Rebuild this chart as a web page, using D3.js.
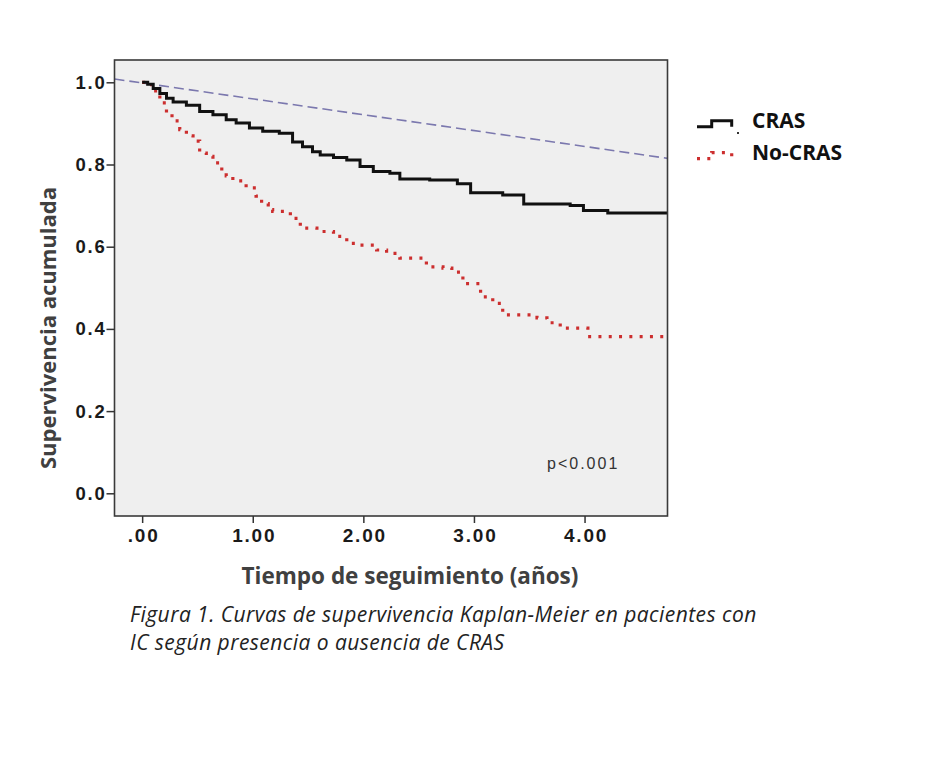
<!DOCTYPE html>
<html>
<head>
<meta charset="utf-8">
<script src="https://cdn.jsdelivr.net/npm/d3@7"></script>
<style>
  body { margin: 0; background: #fff; }
</style>
</head>
<body>
<div id="chart"></div>
<script>
// tiempos (años) y supervivencia acumulada
var crasTime = [0, 0.05, 0.10, 0.16, 0.22, 0.28, 0.40, 0.52, 0.64, 0.76, 0.85, 0.97, 1.09, 1.24, 1.36, 1.45, 1.54, 1.61, 1.73, 1.85, 1.97, 2.09, 2.24, 2.33, 2.60, 2.85, 2.97, 3.26, 3.45, 3.87, 3.99, 4.21, 4.75]
var crasSurv = [1.0, 0.995, 0.985, 0.973, 0.961, 0.952, 0.944, 0.929, 0.921, 0.909, 0.901, 0.889, 0.881, 0.876, 0.855, 0.843, 0.831, 0.823, 0.817, 0.811, 0.795, 0.783, 0.779, 0.765, 0.762, 0.753, 0.731, 0.726, 0.704, 0.700, 0.688, 0.682, 0.682]

var noCrasTime = [0, 0.04, 0.10, 0.16, 0.22, 0.27, 0.34, 0.40, 0.46, 0.52, 0.58, 0.64, 0.72, 0.76, 0.82, 0.94, 1.03, 1.08, 1.14, 1.18, 1.34, 1.43, 1.58, 1.73, 1.85, 1.97, 2.12, 2.21, 2.33, 2.57, 2.72, 2.80, 2.90, 3.06, 3.17, 3.26, 3.57, 3.66, 3.78, 4.03, 4.75]
var noCrasSurv = [1.0, 0.994, 0.979, 0.950, 0.925, 0.906, 0.885, 0.870, 0.857, 0.828, 0.820, 0.804, 0.784, 0.772, 0.760, 0.743, 0.723, 0.705, 0.690, 0.686, 0.669, 0.645, 0.637, 0.625, 0.608, 0.604, 0.592, 0.584, 0.572, 0.551, 0.548, 0.538, 0.510, 0.478, 0.462, 0.434, 0.427, 0.415, 0.402, 0.381, 0.381]

// línea de referencia (discontinua)
var refTime = [-0.25, 4.75]
var refSurv = [1.008, 0.815]

var xTicks = [0, 1, 2, 3, 4]
var xTickLabels = ['.00', '1.00', '2.00', '3.00', '4.00']
var yTicks = [0, 0.2, 0.4, 0.6, 0.8, 1.0]

var seriesNames = ['CRAS', 'No-CRAS']

var width = 935
var height = 757
var frame = { left: 114.5, right: 667.5, top: 60, bottom: 516 }

var x = d3.scaleLinear().domain([-0.25, 4.75]).range([frame.left, frame.right])
var y = d3.scaleLinear().domain([0, 1]).range([493.3, 82.3])

var svg = d3.select('#chart').append('svg')
  .attr('width', width)
  .attr('height', height)
  .style('font-family', 'Arial, "Liberation Sans", sans-serif')

svg.append('defs').append('clipPath')
  .attr('id', 'plot-clip')
  .append('rect')
  .attr('x', frame.left)
  .attr('y', frame.top)
  .attr('width', frame.right - frame.left)
  .attr('height', frame.bottom - frame.top)

// fondo del gráfico
svg.append('rect')
  .attr('x', frame.left)
  .attr('y', frame.top)
  .attr('width', frame.right - frame.left)
  .attr('height', frame.bottom - frame.top)
  .attr('fill', '#efefef')

function toPoints (ts, ss) {
  return ts.map(function (t, i) { return [t, ss[i]] })
}

var stepLine = d3.line()
  .x(function (d) { return x(d[0]) })
  .y(function (d) { return y(d[1]) })
  .curve(d3.curveStepAfter)

var straightLine = d3.line()
  .x(function (d) { return x(d[0]) })
  .y(function (d) { return y(d[1]) })

var plot = svg.append('g').attr('clip-path', 'url(#plot-clip)')

plot.append('path')
  .attr('d', straightLine(toPoints(refTime, refSurv)))
  .attr('fill', 'none')
  .attr('stroke', '#7b78ae')
  .attr('stroke-width', 1.6)
  .attr('stroke-dasharray', '10,5')

plot.append('path')
  .attr('d', stepLine(toPoints(noCrasTime, noCrasSurv)))
  .attr('fill', 'none')
  .attr('stroke', '#cc2e2e')
  .attr('stroke-width', 3.2)
  .attr('stroke-dasharray', '3,7.3')

plot.append('path')
  .attr('d', stepLine(toPoints(crasTime, crasSurv)))
  .attr('fill', 'none')
  .attr('stroke', '#111')
  .attr('stroke-width', 3)

// marco
svg.append('rect')
  .attr('x', frame.left)
  .attr('y', frame.top)
  .attr('width', frame.right - frame.left)
  .attr('height', frame.bottom - frame.top)
  .attr('fill', 'none')
  .attr('stroke', '#3a3a3a')
  .attr('stroke-width', 1.6)

// eje y
var yAxis = svg.append('g').attr('transform', 'translate(' + frame.left + ',0)')
  .call(d3.axisLeft(y).tickValues(yTicks).tickFormat(d3.format('.1f')).tickSize(8).tickPadding(0))
yAxis.select('.domain').remove()
yAxis.selectAll('line').attr('stroke', '#333').attr('stroke-width', 1.5)
yAxis.selectAll('text')
  .attr('fill', '#1a1a1a')
  .style('font-size', '18.5px')
  .style('font-weight', 'bold')
  .style('letter-spacing', '1.8px')

// eje x
var xAxis = svg.append('g').attr('transform', 'translate(0,' + frame.bottom + ')')
  .call(d3.axisBottom(x).tickValues(xTicks).tickFormat(function (d, i) { return xTickLabels[i] }).tickSize(7).tickPadding(6))
xAxis.select('.domain').remove()
xAxis.selectAll('line').attr('stroke', '#333').attr('stroke-width', 1.5)
xAxis.selectAll('text')
  .attr('fill', '#1a1a1a')
  .attr('dx', '1')
  .style('font-size', '19px')
  .style('font-weight', 'bold')
  .style('letter-spacing', '1.8px')

// títulos de ejes
svg.append('text')
  .attr('transform', 'translate(56,328)rotate(-90)')
  .attr('text-anchor', 'middle')
  .attr('fill', '#404040')
  .style('font-family', '"Open Sans", sans-serif')
  .style('font-size', '22px')
  .style('font-weight', 'bold')
  .text('Supervivencia acumulada')

svg.append('text')
  .attr('x', 410)
  .attr('y', 584)
  .attr('text-anchor', 'middle')
  .attr('fill', '#404040')
  .style('font-family', '"Open Sans", sans-serif')
  .style('font-size', '22.5px')
  .style('font-weight', 'bold')
  .text('Tiempo de seguimiento (años)')

svg.append('text')
  .attr('x', 547)
  .attr('y', 469)
  .attr('fill', '#333')
  .style('font-size', '16px')
  .style('letter-spacing', '2px')
  .text('p<0.001')

// leyenda
var legend = svg.append('g')
var legendIcon = 'M697,126.7H711.7V120.7H731.7V126.7'
legend.append('path')
  .attr('d', legendIcon)
  .attr('fill', 'none')
  .attr('stroke', '#111')
  .attr('stroke-width', 3)
legend.append('rect')
  .attr('x', 737).attr('y', 132).attr('width', 2).attr('height', 2)
  .attr('fill', '#333')
legend.append('path')
  .attr('d', legendIcon)
  .attr('transform', 'translate(0,32)')
  .attr('fill', 'none')
  .attr('stroke', '#cc2e2e')
  .attr('stroke-width', 3.2)
  .attr('stroke-dasharray', '3,7.3')

legend.selectAll('.legend-label')
  .data(seriesNames)
  .enter().append('text')
  .attr('class', 'legend-label')
  .attr('x', 752)
  .attr('y', function (d, i) { return 128 + i * 31.5 })
  .attr('fill', '#111')
  .style('font-family', '"Open Sans", sans-serif')
  .style('font-size', '21px')
  .style('font-weight', 'bold')
  .text(function (d) { return d })

// pie de figura
var caption = ['Figura 1. Curvas de supervivencia Kaplan-Meier en pacientes con', 'IC según presencia o ausencia de CRAS']
svg.selectAll('.caption')
  .data(caption)
  .enter().append('text')
  .attr('class', 'caption')
  .attr('x', 130)
  .attr('y', function (d, i) { return 622 + i * 28 })
  .attr('fill', '#222')
  .style('font-family', '"Open Sans", sans-serif')
  .style('font-size', '21px')
  .style('letter-spacing', '0.45px')
  .style('font-style', 'italic')
  .text(function (d) { return d })
</script>
</body>
</html>
